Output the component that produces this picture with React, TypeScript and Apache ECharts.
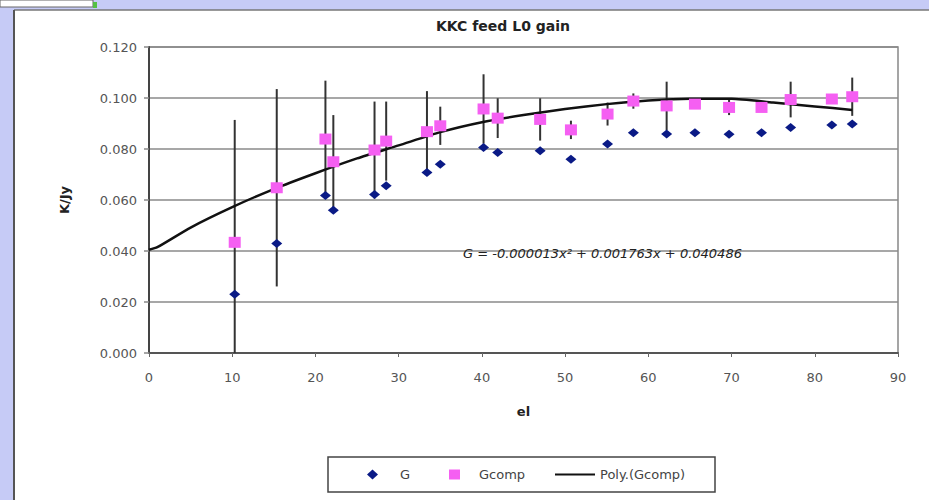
import React, { useEffect, useRef } from "react";
import * as echarts from "echarts";

const titleText = "KKC feed L0 gain";
const equationText = "G = -0.000013x² + 0.001763x + 0.040486";

const el = [10.3, 15.35, 21.2, 22.15, 27.1, 28.5, 33.4, 35.0, 40.2, 41.9, 47.0, 50.7, 55.1, 58.2, 62.2, 65.6, 69.7, 73.6, 77.1, 82.05, 84.5];
const gValues = [0.023, 0.0429, 0.0618, 0.056, 0.0622, 0.0656, 0.0708, 0.074, 0.0806, 0.0786, 0.0793, 0.076, 0.082, 0.0864, 0.0859, 0.0864, 0.0858, 0.0864, 0.0884, 0.0894, 0.0898];
const gcompValues = [0.0434, 0.0648, 0.0839, 0.075, 0.0796, 0.0831, 0.0868, 0.0891, 0.0957, 0.0921, 0.0916, 0.0875, 0.0937, 0.0988, 0.0969, 0.0976, 0.0963, 0.0963, 0.0994, 0.0996, 0.1005];
const gcompErr = [0.048, 0.0387, 0.0229, 0.0183, 0.019, 0.0155, 0.0159, 0.0075, 0.0136, 0.0078, 0.0083, 0.0036, 0.0045, 0.003, 0.0095, 0.0015, 0.003, 0.0015, 0.007, 0.0015, 0.0075];

const polyX = [0, 1, 5, 10, 15, 20, 25, 30, 35, 40, 45, 50, 55, 60, 65, 70, 75, 80, 84.5];
const polyY = [0.0405, 0.0415, 0.0492, 0.0572, 0.0643, 0.0705, 0.0763, 0.0814, 0.0866, 0.0905, 0.0933, 0.0957, 0.0976, 0.099, 0.0997, 0.0997, 0.0982, 0.0967, 0.0953];

const xTickLabels = ["0", "10", "20", "30", "40", "50", "60", "70", "80", "90"];
const yTickLabels = ["0.000", "0.020", "0.040", "0.060", "0.080", "0.100", "0.120"];

const FONT = "DejaVu Sans";
const BLUE = "#0a1a86";
const PINK = "#f55ff2";

export default function App() {
  const ref = useRef<HTMLDivElement>(null);
  useEffect(() => {
    if (!ref.current) return;
    const chart = echarts.init(ref.current, null, { renderer: "svg" });
    const legendText = { fontFamily: FONT, fontSize: 13, color: "#444" };
    const option: any = {
      animation: false,
      backgroundColor: "transparent",
      graphic: [
        { type: "rect", z: -10, shape: { x: 0, y: 0, width: 929, height: 500 }, style: { fill: "#c6cbf6" } },
        { type: "rect", z: -9, shape: { x: 14, y: 10, width: 915, height: 490 }, style: { fill: "#ffffff" } },
        { type: "line", z: -8, shape: { x1: 14, y1: 10, x2: 929, y2: 10 }, style: { stroke: "#777", lineWidth: 1.5 } },
        { type: "line", z: -8, shape: { x1: 14, y1: 10, x2: 14, y2: 500 }, style: { stroke: "#555", lineWidth: 2 } },
        { type: "rect", z: -8, shape: { x: 0, y: 0, width: 93, height: 7 }, style: { fill: "#ffffff", stroke: "#666", lineWidth: 1 } },
        { type: "rect", z: -8, shape: { x: 93, y: 2, width: 4, height: 6 }, style: { fill: "#55c044" } },
        { type: "rect", z: -7, shape: { x: 328, y: 457, width: 387, height: 35 }, style: { fill: "#ffffff", stroke: "#444", lineWidth: 1.5 } },
        {
          type: "text",
          z: 10,
          x: 463,
          y: 253,
          style: { text: equationText, font: `italic 13px "${FONT}"`, fill: "#222", textVerticalAlign: "middle" },
        },
      ],
      title: {
        text: titleText,
        left: 498,
        top: 14,
        textAlign: "center",
        textStyle: { fontFamily: FONT, fontSize: 14, fontWeight: "bold", color: "#222" },
      },
      legend: [
        {
          left: 367,
          top: 468,
          itemWidth: 11,
          itemHeight: 10,
          padding: 0,
          data: [{ name: "G", icon: "diamond" }],
          textStyle: { ...legendText, padding: [0, 0, 0, 17] },
        },
        {
          left: 449,
          top: 468,
          itemWidth: 11,
          itemHeight: 10,
          padding: 0,
          data: [{ name: "Gcomp", icon: "rect" }],
          textStyle: { ...legendText, padding: [0, 0, 0, 14] },
        },
        {
          left: 555,
          top: 468,
          itemWidth: 40,
          itemHeight: 2,
          padding: 0,
          data: [{ name: "Poly.(Gcomp)", icon: "rect" }],
          textStyle: legendText,
        },
      ],
      grid: {
        left: 149,
        top: 47,
        width: 749,
        height: 306,
        show: true,
        borderColor: "#888",
        borderWidth: 1.5,
        backgroundColor: "transparent",
      },
      xAxis: {
        type: "value",
        min: 0,
        max: 90,
        interval: 10,
        name: "el",
        nameLocation: "middle",
        nameGap: 52,
        nameTextStyle: { fontFamily: FONT, fontSize: 13, fontWeight: "bold", color: "#222" },
        axisLine: { show: true, lineStyle: { color: "#555", width: 2 } },
        axisTick: { show: true, length: 4, lineStyle: { color: "#666" } },
        splitLine: { show: false },
        axisLabel: {
          margin: 18,
          fontFamily: FONT,
          fontSize: 13,
          color: "#555",
          formatter: (v: number) => xTickLabels[Math.round(v / 10)],
        },
      },
      yAxis: {
        type: "value",
        min: 0,
        max: 0.12,
        interval: 0.02,
        name: "K/Jy",
        nameLocation: "middle",
        nameGap: 78,
        nameRotate: 90,
        nameTextStyle: { fontFamily: FONT, fontSize: 13, fontWeight: "bold", color: "#222" },
        axisLine: { show: true, lineStyle: { color: "#444", width: 2 } },
        axisTick: { show: true, length: 5, lineStyle: { color: "#888", width: 1.5 } },
        splitLine: { show: true, lineStyle: { color: "#8a8a8a", width: 1.5 } },
        axisLabel: {
          margin: 12,
          fontFamily: FONT,
          fontSize: 13,
          color: "#555",
          formatter: (v: number) => yTickLabels[Math.round(v / 0.02)],
        },
      },
      series: [
        {
          name: "errors",
          type: "custom",
          z: 1,
          data: el.map((x, i) => [x, gcompValues[i], gcompErr[i]]),
          encode: { x: 0, y: 1 },
          renderItem: (params: any, api: any) => {
            const x = api.value(0);
            const c = api.value(1);
            const e = api.value(2);
            const top = api.coord([x, c + e]);
            const bot = api.coord([x, Math.max(0, c - e)]);
            return {
              type: "line",
              shape: { x1: top[0], y1: top[1], x2: bot[0], y2: bot[1] },
              style: { stroke: "#333", lineWidth: 2 },
            };
          },
        },
        {
          name: "Poly.(Gcomp)",
          type: "line",
          z: 2,
          smooth: 0.2,
          symbol: "none",
          data: polyX.map((x, i) => [x, polyY[i]]),
          lineStyle: { color: "#111", width: 2.5 },
          itemStyle: { color: "#111" },
        },
        {
          name: "G",
          type: "scatter",
          z: 3,
          symbol: "diamond",
          symbolSize: [11, 9],
          data: el.map((x, i) => [x, gValues[i]]),
          itemStyle: { color: BLUE, opacity: 1 },
        },
        {
          name: "Gcomp",
          type: "scatter",
          z: 4,
          symbol: "rect",
          symbolSize: [12, 11],
          data: el.map((x, i) => [x, gcompValues[i]]),
          itemStyle: { color: PINK, opacity: 1 },
        },
      ],
    };
    chart.setOption(option);
    return () => chart.dispose();
  }, []);
  return (
    <div
      ref={ref}
      style={{ position: "absolute", left: 0, top: 0, width: 929, height: 500 }}
    />
  );
}
